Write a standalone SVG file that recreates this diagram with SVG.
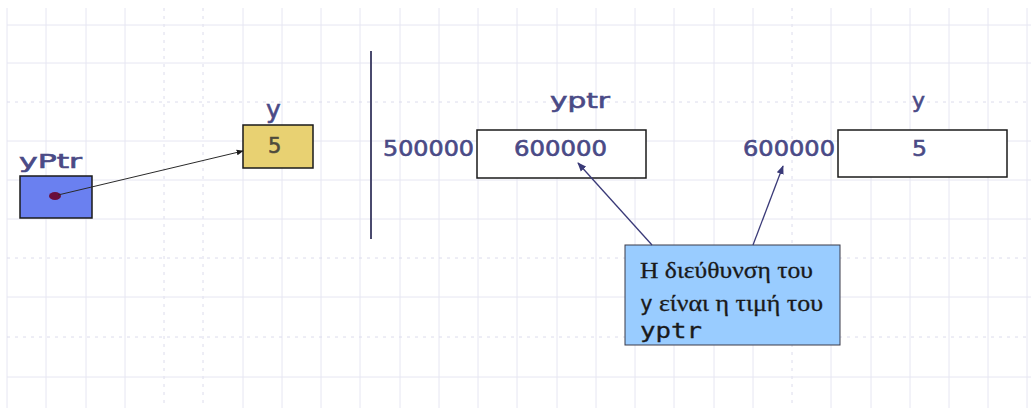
<svg xmlns="http://www.w3.org/2000/svg" width="1031" height="408" viewBox="0 0 1031 408">
  <defs>
    <marker id="tip" viewBox="0 0 10 10" refX="9" refY="5" markerWidth="7" markerHeight="7" markerUnits="userSpaceOnUse" orient="auto">
      <path d="M0,1 L10,5 L0,9 z" fill="#1a1a1a"/>
    </marker>
    <marker id="tipBlue" viewBox="0 0 10 10" refX="9" refY="5" markerWidth="9" markerHeight="9" markerUnits="userSpaceOnUse" orient="auto">
      <path d="M0,1 L10,5 L0,9 z" fill="#3a3a78"/>
    </marker>
    <style>
      .grid line { stroke: #e6e6f2; stroke-width: 1; }
      .grid .dot { stroke-dasharray: 3 5; stroke: #dcdcec; }
      .lbl { font-family: "DejaVu Sans", Verdana, sans-serif; fill: #4a4a86; stroke: #4a4a86; stroke-width: 0.6; }
      .box { stroke: #1a1a1a; stroke-width: 1.5; }
      .greek { font-family: "Liberation Serif", "Times New Roman", serif; fill: #1a1a1a; stroke: #1a1a1a; stroke-width: 0.3; font-size: 24px; }
      .mono { font-family: "DejaVu Sans Mono", "Liberation Mono", monospace; fill: #1a1a1a; stroke: #1a1a1a; stroke-width: 0.3; }
    </style>
  </defs>

  <rect width="1031" height="408" fill="#ffffff"/>

  <!-- background grid -->
  <g class="grid">
    <line x1="7" y1="8" x2="7" y2="408"/>
    <line x1="46" y1="8" x2="46" y2="408"/>
    <line x1="86" y1="8" x2="86" y2="408"/>
    <line x1="125" y1="8" x2="125" y2="408"/>
    <line class="dot" x1="164" y1="8" x2="164" y2="408"/>
    <line class="dot" x1="203" y1="8" x2="203" y2="408"/>
    <line x1="243" y1="8" x2="243" y2="408"/>
    <line x1="282" y1="8" x2="282" y2="408"/>
    <line x1="321" y1="8" x2="321" y2="408"/>
    <line x1="360" y1="8" x2="360" y2="408"/>
    <line x1="400" y1="8" x2="400" y2="408"/>
    <line x1="439" y1="8" x2="439" y2="408"/>
    <line x1="478" y1="8" x2="478" y2="408"/>
    <line x1="517" y1="8" x2="517" y2="408"/>
    <line x1="557" y1="8" x2="557" y2="408"/>
    <line x1="596" y1="8" x2="596" y2="408"/>
    <line x1="635" y1="8" x2="635" y2="408"/>
    <line x1="674" y1="8" x2="674" y2="408"/>
    <line x1="714" y1="8" x2="714" y2="408"/>
    <line x1="753" y1="8" x2="753" y2="408"/>
    <line class="dot" x1="792" y1="8" x2="792" y2="408"/>
    <line x1="831" y1="8" x2="831" y2="408"/>
    <line x1="871" y1="8" x2="871" y2="408"/>
    <line x1="910" y1="8" x2="910" y2="408"/>
    <line x1="949" y1="8" x2="949" y2="408"/>
    <line x1="988" y1="8" x2="988" y2="408"/>
    <line x1="1027" y1="8" x2="1027" y2="408"/>
    <line x1="7" y1="25" x2="1031" y2="25"/>
    <line x1="7" y1="63" x2="1031" y2="63"/>
    <line class="dot" x1="7" y1="102" x2="1031" y2="102"/>
    <line x1="7" y1="141" x2="1031" y2="141"/>
    <line x1="7" y1="180" x2="1031" y2="180"/>
    <line x1="7" y1="219" x2="1031" y2="219"/>
    <line class="dot" x1="7" y1="258" x2="1031" y2="258"/>
    <line x1="7" y1="297" x2="1031" y2="297"/>
    <line class="dot" x1="7" y1="337" x2="1031" y2="337"/>
    <line x1="7" y1="377" x2="1031" y2="377"/>
  </g>

  <!-- divider between the two views -->
  <line x1="371" y1="51" x2="371" y2="239" stroke="#4a4a6e" stroke-width="2"/>

  <!-- left view: pointer variable yPtr -->
  <g id="node-yPtr">
    <text class="lbl" x="19" y="168" font-size="19" textLength="63" lengthAdjust="spacingAndGlyphs">yPtr</text>
    <rect class="box" x="20" y="176" width="72" height="42" fill="#6a80f0"/>
    <ellipse cx="55" cy="196" rx="6" ry="4" fill="#6a0d3c"/>
  </g>

  <!-- left view: variable y -->
  <g id="node-y-small">
    <text class="lbl" x="266" y="118" font-size="25">y</text>
    <rect class="box" x="243" y="125" width="70" height="43" fill="#e8d172"/>
    <text x="268" y="153" font-family="DejaVu Sans, Verdana, sans-serif" font-size="21" fill="#4e4a3c" stroke="#4e4a3c" stroke-width="0.6">5</text>
  </g>

  <!-- right view: yptr cell at address 500000 -->
  <g id="node-yptr">
    <text class="lbl" x="383" y="156" font-size="21" textLength="91" lengthAdjust="spacingAndGlyphs">500000</text>
    <text class="lbl" x="550" y="108" font-size="21" textLength="60" lengthAdjust="spacingAndGlyphs">yptr</text>
    <rect class="box" x="477" y="130" width="169" height="48" fill="#ffffff"/>
    <text class="lbl" x="514" y="156" font-size="21" textLength="93" lengthAdjust="spacingAndGlyphs">600000</text>
  </g>

  <!-- right view: y cell at address 600000 -->
  <g id="node-y">
    <text class="lbl" x="743" y="156" font-size="21" textLength="92" lengthAdjust="spacingAndGlyphs">600000</text>
    <text class="lbl" x="912" y="108" font-size="22">y</text>
    <rect class="box" x="838" y="130" width="169" height="47" fill="#ffffff"/>
    <text class="lbl" x="912" y="156" font-size="21" textLength="15" lengthAdjust="spacingAndGlyphs">5</text>
  </g>

  <!-- explanatory note -->
  <g id="node-note">
    <rect x="625" y="245" width="215" height="100" fill="#99ccff" stroke="#3a3a48" stroke-width="1"/>
    <text class="greek" x="640" y="278" textLength="173" lengthAdjust="spacingAndGlyphs">Η διεύθυνση του</text>
    <text class="mono" x="640" y="311" font-size="21">y</text>
    <text class="greek" x="659" y="311" textLength="164" lengthAdjust="spacingAndGlyphs">είναι η τιμή του</text>
    <text class="mono" x="640" y="338" font-size="21" textLength="62" lengthAdjust="spacingAndGlyphs">yptr</text>
  </g>

  <!-- connectors -->
  <g id="connectors" fill="none">
    <line x1="58" y1="195" x2="243" y2="151" stroke="#2a2a2a" stroke-width="1" marker-end="url(#tip)"/>
    <line x1="652" y1="245" x2="578" y2="163" stroke="#3a3a78" stroke-width="1.3" marker-end="url(#tipBlue)"/>
    <line x1="753" y1="245" x2="783" y2="166" stroke="#3a3a78" stroke-width="1.3" marker-end="url(#tipBlue)"/>
  </g>
</svg>
